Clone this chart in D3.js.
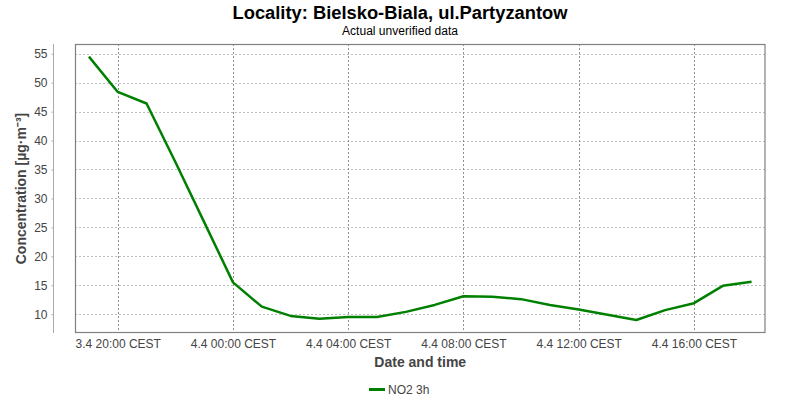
<!DOCTYPE html>
<html><head><meta charset="utf-8">
<script src="https://cdn.jsdelivr.net/npm/d3@7"></script>
<style>body{margin:0;background:#fff}svg{display:block}</style>
</head><body><svg id="c" width="800" height="400"></svg>
<script>
const times = ["2023-04-03T19:00","2023-04-03T20:00","2023-04-03T21:00","2023-04-03T22:00","2023-04-03T23:00",
  "2023-04-04T00:00","2023-04-04T01:00","2023-04-04T02:00","2023-04-04T03:00","2023-04-04T04:00","2023-04-04T05:00",
  "2023-04-04T06:00","2023-04-04T07:00","2023-04-04T08:00","2023-04-04T09:00","2023-04-04T10:00","2023-04-04T11:00",
  "2023-04-04T12:00","2023-04-04T13:00","2023-04-04T14:00","2023-04-04T15:00","2023-04-04T16:00","2023-04-04T17:00","2023-04-04T18:00"];
const no2 = [54.5,48.4,46.4,36.3,25.9,15.5,11.3,9.7,9.2,9.5,9.5,10.4,11.6,13.1,13.0,12.6,11.6,10.8,9.9,9.0,10.7,11.9,14.9,15.6];
const xTickTimes = ["2023-04-03T20:00","2023-04-04T00:00","2023-04-04T04:00","2023-04-04T08:00","2023-04-04T12:00","2023-04-04T16:00"];
const xTickLabels = ["3.4 20:00 CEST","4.4 00:00 CEST","4.4 04:00 CEST","4.4 08:00 CEST","4.4 12:00 CEST","4.4 16:00 CEST"];
const yTicks = [10,15,20,25,30,35,40,45,50,55];
const seriesName = "NO2 3h";
const title = "Locality: Bielsko-Biala, ul.Partyzantow";
const subtitle = "Actual unverified data";

const parse = d3.timeParse("%Y-%m-%dT%H:%M");
const data = times.map((t,i)=>({t:parse(t), v:no2[i]}));
const svg = d3.select("#c");
const L=75, R=765.5, T=44, B=333;
const pad = 29*60*1000;
const x = d3.scaleTime().domain([+data[0].t - pad, +data[data.length-1].t + pad]).range([L,R]);
const y = d3.scaleLinear().domain([6.75,56.68]).range([B,T]);
const xt = xTickTimes.map(parse);

// title
svg.append("text").attr("x",400).attr("y",19).attr("text-anchor","middle")
  .attr("font-family","'Liberation Sans Narrow','Liberation Sans',Arial,sans-serif").attr("font-weight","bold")
  .attr("font-size",18).attr("fill","#000").attr("textLength",335).attr("lengthAdjust","spacingAndGlyphs").text(title);
svg.append("text").attr("x",400).attr("y",35).attr("text-anchor","middle")
  .attr("font-family","'Liberation Sans Narrow','Liberation Sans',Arial,sans-serif")
  .attr("font-size",12).attr("fill","#000").attr("textLength",116).attr("lengthAdjust","spacingAndGlyphs").text(subtitle);

// grid
const g = svg.append("g");
g.selectAll(".hg").data(yTicks).join("line").attr("x1",L).attr("x2",R)
  .attr("y1",d=>Math.round(y(d))+0.5).attr("y2",d=>Math.round(y(d))+0.5)
  .attr("stroke","#c0c0c0").attr("stroke-dasharray","2,2");
g.selectAll(".vg").data(xt).join("line").attr("y1",T).attr("y2",B)
  .attr("x1",d=>Math.round(x(d))+0.5).attr("x2",d=>Math.round(x(d))+0.5)
  .attr("stroke","#909090").attr("stroke-dasharray","2,2");

// y axis
const yAxis = d3.axisLeft(y).tickValues(yTicks).tickSize(2).tickPadding(4).tickFormat(d3.format("d"));
const ya = svg.append("g").attr("transform","translate(53.5,0)").call(yAxis);
ya.select(".domain").attr("stroke","#aaa").attr("d",`M0,${T}V${B}`);
ya.selectAll(".tick line").attr("stroke","#aaa");
ya.selectAll("text").attr("font-family","'Liberation Sans',Arial,sans-serif").attr("font-size",12).attr("fill","#444");

// x axis
const fmtMap = new Map(xt.map((d,i)=>[+d, xTickLabels[i]]));
const xAxis = d3.axisBottom(x).tickValues(xt).tickSize(0).tickPadding(6).tickFormat(d=>fmtMap.get(+d));
const xa = svg.append("g").attr("transform",`translate(0,${B})`).call(xAxis);
xa.select(".domain").remove();
xa.selectAll("text").attr("font-family","'Liberation Sans',Arial,sans-serif").attr("font-size",12).attr("fill","#444");

// line
svg.append("path").datum(data).attr("fill","none").attr("stroke","#008000").attr("stroke-width",2.5)
  .attr("stroke-linejoin","round")
  .attr("d", d3.line().x(d=>x(d.t)).y(d=>y(d.v)));

// border
svg.append("rect").attr("x",L+0.5).attr("y",T+0.5).attr("width",R-L-1).attr("height",B-T-1)
  .attr("fill","none").attr("stroke","#808080").attr("stroke-width",1.2);

// axis titles
svg.append("text").attr("x",(L+R)/2).attr("y",367).attr("text-anchor","middle")
  .attr("font-family","'Liberation Sans',Arial,sans-serif").attr("font-weight","bold").attr("font-size",14)
  .attr("fill","#444").text("Date and time");
svg.append("text").attr("transform",`translate(26,${(T+B)/2}) rotate(-90)`).attr("text-anchor","middle")
  .attr("font-family","'Liberation Sans',Arial,sans-serif").attr("font-weight","bold").attr("font-size",14)
  .attr("fill","#444").text("Concentration [µg·m⁻³]");

// legend
svg.append("line").attr("x1",369).attr("x2",385).attr("y1",389.5).attr("y2",389.5).attr("stroke","#008000").attr("stroke-width",3);
svg.append("text").attr("x",388).attr("y",394).attr("font-family","'Liberation Sans',Arial,sans-serif")
  .attr("font-size",12).attr("fill","#444").text(seriesName);
</script></body></html>
